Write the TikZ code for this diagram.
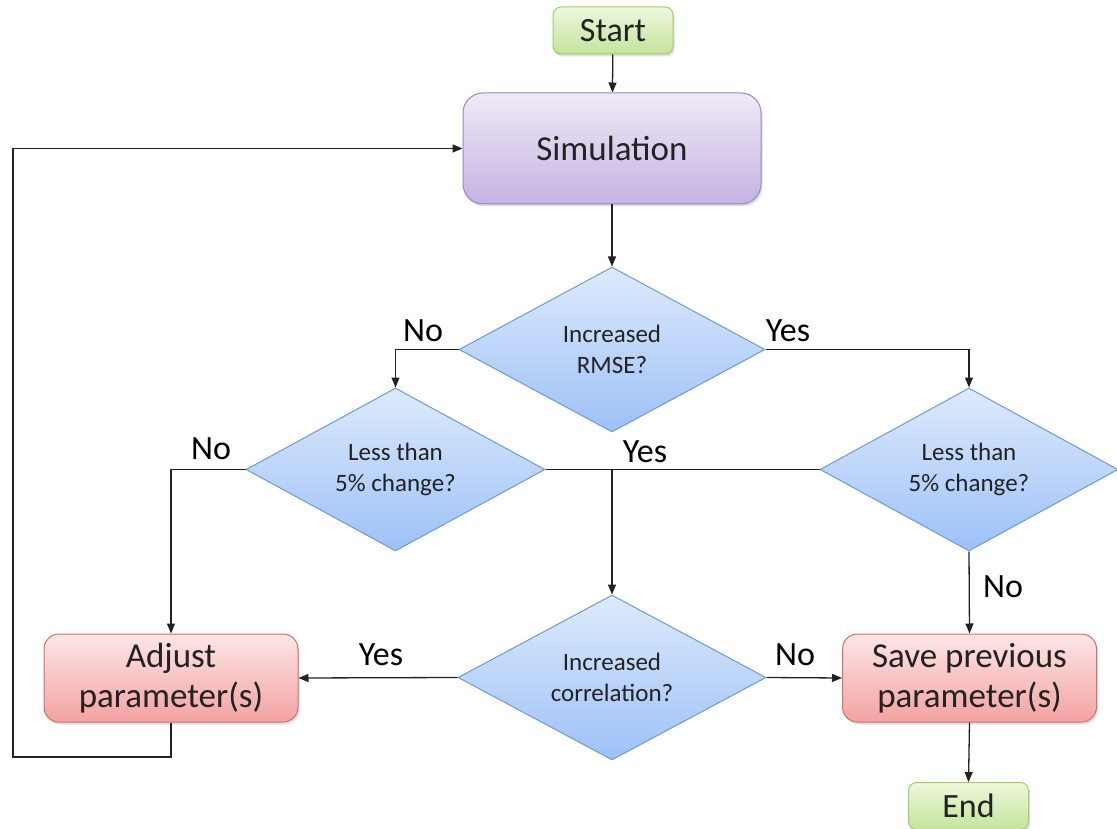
\documentclass[tikz,border=0pt]{standalone}
\usepackage{fontspec}
\setmainfont{Carlito}
\usetikzlibrary{shapes.geometric,arrows.meta,shadows}
\definecolor{gtop}{HTML}{EEF8DE}
\definecolor{gbot}{HTML}{C4E39A}
\definecolor{gbrd}{HTML}{A2CC6A}
\definecolor{ptop}{HTML}{EFEAF7}
\definecolor{pbot}{HTML}{C6B3E2}
\definecolor{pbrd}{HTML}{9C84C6}
\definecolor{btop}{HTML}{DDEAFC}
\definecolor{bbot}{HTML}{9DC1F7}
\definecolor{bbrd}{HTML}{6E9AD4}
\definecolor{rtop}{HTML}{FDE6E6}
\definecolor{rbot}{HTML}{F3A2A2}
\definecolor{rbrd}{HTML}{D66C6C}
\definecolor{ink}{HTML}{222222}
\begin{document}
\begin{tikzpicture}[x=1pt,y=-1pt,
  shad/.style={drop shadow={opacity=0.25,shadow xshift=1.5pt,shadow yshift=-2.5pt}},
  term/.style={rectangle,rounded corners=8pt,draw=gbrd,line width=1pt,top color=gtop,bottom color=gbot,
    minimum width=120pt,minimum height=47pt,inner sep=0pt,font=\fontsize{34}{40}\selectfont,text=ink,shad},
  simbox/.style={rectangle,rounded corners=20pt,draw=pbrd,line width=1pt,top color=ptop,bottom color=pbot,
    minimum width=298pt,minimum height=111pt,inner sep=0pt,font=\fontsize{35}{40}\selectfont,text=ink,shad},
  redbox/.style={rectangle,rounded corners=15pt,draw=rbrd,line width=1pt,top color=rtop,bottom color=rbot,
    minimum width=254pt,minimum height=88pt,inner sep=0pt,align=center,font=\fontsize{35}{40}\selectfont,text=ink,shad},
  dec/.style={diamond,aspect=1.85,draw=bbrd,line width=1pt,top color=btop,bottom color=bbot,
    minimum width=306pt,minimum height=165pt,inner sep=0pt,align=center,font=\fontsize{25}{31}\selectfont,text=ink},
  lbl/.style={font=\fontsize{34}{40}\selectfont,text=black,inner sep=0pt},
  conn/.style={draw=ink,line width=1.3pt},
  arr/.style={conn,-{Triangle[length=10pt,width=8pt]}}]
\useasboundingbox (0,0) rectangle (1117,829);

\node[term] (start) at (613,30.5) {Start};
\node[simbox] (sim) at (612,148.5) {Simulation};
\node[dec] (d1) at (612,349.5) {Increased\\RMSE?};
\node[dec,minimum width=299pt,minimum height=163pt] (d2) at (395.5,469.5) {Less than\\5\% change?};
\node[dec,minimum width=298pt,minimum height=163pt] (d3) at (969,469.5) {Less than\\5\% change?};
\node[dec,minimum width=308pt] (d4) at (612,677.5) {Increased\\correlation?};
\node[redbox] (adj) at (171,678) {Adjust\\parameter(s)};
\node[redbox] (save) at (969.5,678) {Save previous\\parameter(s)};
\node[term] (end) at (968.5,806) {End};

\coordinate (loop) at (13,757);
\coordinate (join) at (612,469.5);

\node[lbl] (l1) at (423,331) {No};
\node[lbl] (l2) at (788,331) {Yes};
\node[lbl] (l3) at (211,449) {No};
\node[lbl] (l4) at (645,452) {Yes};
\node[lbl] (l5) at (1003,587) {No};
\node[lbl] (l6) at (381,655) {Yes};
\node[lbl] (l7) at (795,655) {No};

\draw[arr] (start) -- (sim);
\draw[arr] (sim) -- (d1);
\draw[arr] (d1.west) -| (d2.north);
\draw[arr] (d1.east) -| (d3.north);
\draw[arr] (d2.west) -| (adj.north);
\draw[arr] (d2.east) -- (join) -- (d4.north);
\draw[conn] (d3.west) -- (join);
\draw[arr] (d3.south) -- (save.north);
\draw[arr] (d4.west) -- (adj.east);
\draw[arr] (d4.east) -- (save.west);
\draw[arr] (save.south) -- (end.north);
\draw[arr] (adj.south) |- (loop) |- (sim.west);
\end{tikzpicture}
\end{document}
